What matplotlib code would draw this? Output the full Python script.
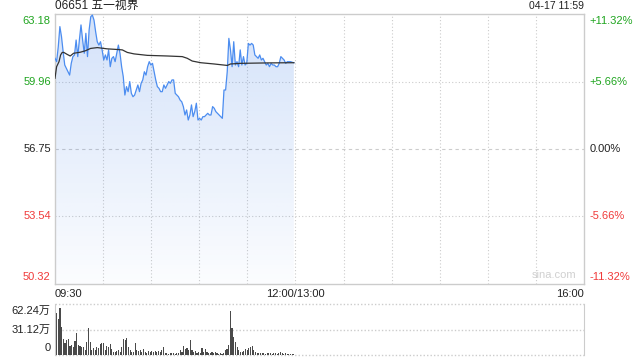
import numpy as np
import matplotlib
matplotlib.use('Agg')
import matplotlib.pyplot as plt
from matplotlib.patches import Polygon

plt.rcParams['font.family'] = ['Liberation Sans', 'Noto Sans CJK SC', 'DejaVu Sans']

# 行情数据 (09:30 - 11:59)
prev_close = 56.75
price = [61.07, 60.91, 61.62, 62.58, 62.10, 61.39, 60.75, 60.59, 60.43, 60.27,
         60.83, 61.15, 61.23, 61.94, 61.15, 61.94, 62.66, 61.94, 61.31, 62.26,
         61.15, 62.42, 63.05, 63.13, 62.89, 62.34, 61.86, 61.70, 61.86, 61.47,
         60.99, 61.23, 60.99, 61.47, 60.67, 61.07, 61.15, 60.91, 61.31, 61.70,
         61.31, 60.67, 60.20, 59.32, 59.72, 59.48, 59.96, 59.40, 59.24, 59.32,
         59.56, 59.80, 59.48, 59.88, 60.04, 60.43, 60.27, 60.67, 60.91, 60.75,
         60.83, 60.43, 60.04, 59.72, 59.64, 59.48, 59.48, 59.80, 59.64, 59.80,
         59.96, 59.88, 60.04, 60.04, 59.40, 59.32, 59.24, 59.08, 59.00, 58.77,
         58.37, 58.61, 58.13, 58.37, 58.85, 58.29, 58.53, 58.93, 58.13, 58.21,
         58.13, 58.29, 58.29, 58.37, 58.45, 58.37, 58.37, 58.77, 58.69, 58.53,
         58.45, 58.37, 58.29, 58.21, 59.56, 59.56, 60.43, 62.02, 61.47, 60.67,
         61.86, 60.75, 60.91, 60.67, 61.47, 60.75, 61.15, 60.75, 60.83, 61.78,
         61.70, 61.78, 61.70, 61.23, 61.15, 61.07, 61.23, 60.99, 61.07, 60.91,
         60.75, 60.83, 60.67, 60.83, 60.75, 60.75, 60.67, 60.67, 60.83, 61.15,
         61.07, 60.99, 60.83, 60.91, 60.91, 60.91, 60.88, 60.86]

avg_min = [0, 1, 2.5, 3.5, 4.5, 5.5, 7.5, 9.5, 11.6, 15.8, 19, 22.2, 26.4, 32.6,
           38.9, 42, 45.1, 49.3, 57.6, 70.1, 79.4, 82.5, 85.6, 90.9, 99.2, 107.5,
           109.5, 115.8, 132.4, 149]
avg_val = [60.12, 60.67, 60.91, 61.23, 61.35, 61.35, 61.26, 61.18, 61.31, 61.36,
           61.43, 61.54, 61.58, 61.52, 61.49, 61.47, 61.35, 61.28, 61.21, 61.18,
           61.15, 61.07, 60.94, 60.86, 60.80, 60.73, 60.80, 60.83, 60.85, 60.86]

# 成交量 (万股)
volume = [62.24, 51.2, 43.8, 57.3, 34.0, 19.2, 14.3, 18.4, 19.2, 11.0,
          12.3, 9.4, 17.6, 26.6, 12.3, 11.0, 10.2, 9.4, 6.1, 16.4,
          32.8, 16.4, 6.1, 8.2, 6.1, 10.2, 8.2, 13.5, 15.2, 15.2,
          6.1, 11.0, 9.4, 13.5, 7.0, 4.1, 4.1, 5.3, 6.1, 4.1,
          9.4, 19.2, 18.4, 20.5, 9.4, 6.1, 4.1, 4.1, 15.2, 6.1,
          5.3, 6.1, 4.1, 7.0, 4.1, 2.9, 5.3, 4.1, 5.3, 4.1,
          5.3, 4.1, 5.3, 4.1, 6.1, 9.4, 2.9, 2.0, 1.2, 2.0,
          2.9, 2.0, 1.2, 2.9, 2.0, 6.1, 4.1, 11.0, 7.0, 8.2,
          6.1, 18.4, 6.1, 4.1, 5.3, 2.9, 4.1, 2.9, 8.2, 4.1,
          7.0, 4.1, 2.9, 2.0, 4.1, 2.9, 4.1, 2.0, 1.2, 2.9,
          1.2, 2.9, 6.1, 7.0, 12.3, 54.0, 32.8, 22.5, 16.4, 9.4,
          6.1, 4.1, 4.1, 5.3, 7.0, 6.1, 8.2, 9.4, 11.0, 6.1,
          4.1, 2.9, 2.0, 2.0, 2.9, 2.0, 1.2, 2.0, 2.9, 2.0,
          1.2, 2.9, 2.0, 1.2, 2.0, 4.1, 2.0, 1.2, 2.0, 1.2,
          1.2, 1.2, 0.8, 0.8]

price_ticks = [63.18, 59.96, 56.75, 53.54, 50.32]
pct_labels = ['+11.32%', '+5.66%', '0.00%', '-5.66%', '-11.32%']
vol_ticks = [62.24, 31.12, 0]
vol_labels = ['62.24万', '31.12万', '0']

GREEN = '#1fa51f'
RED = '#f03a3a'
GRID = '#cccccc'
LINE = '#4c8df0'

t_price = np.linspace(0, 149, len(price))
t_vol = np.linspace(0, 149, len(volume))

fig = plt.figure(figsize=(6.4, 3.6), dpi=100)
ax = fig.add_axes([55 / 640, 1 - 284 / 360, 529 / 640, 270 / 360])
axv = fig.add_axes([55 / 640, 1 - 355 / 360, 529 / 640, 51 / 360])

ymin, ymax = price_ticks[-1], price_ticks[0]
ax.set_xticks([])
ax.set_yticks([])
for s in ax.spines.values():
    s.set_color(GRID)
    s.set_linewidth(1)

# 网格
for x in range(30, 330, 30):
    ax.axvline(x, color=GRID, lw=0.8, ls=(0, (1, 2)), zorder=0)
for p in [price_ticks[1], price_ticks[3]]:
    ax.axhline(p, color=GRID, lw=0.8, ls=(0, (1, 2)), zorder=0)
ax.axhline(prev_close, color=GRID, lw=0.8, ls=(0, (3, 3)), zorder=0)

# 渐变填充
verts = [(t_price[0], ymin)] + list(zip(t_price, price)) + [(t_price[-1], ymin)]
poly = Polygon(verts, closed=True, facecolor='none', edgecolor='none')
ax.add_patch(poly)
grad = np.zeros((256, 1, 4))
grad[:, 0, 0:3] = matplotlib.colors.to_rgb('#4a86e8')
grad[:, 0, 3] = np.linspace(0.24, 0.02, 256)
im = ax.imshow(grad, extent=[t_price[0], t_price[-1], ymin, ymax], aspect='auto',
               origin='upper', zorder=1)
im.set_clip_path(poly)
ax.set_xlim(0, 330)
ax.set_ylim(ymin, ymax)

ax.plot(t_price, price, color=LINE, lw=0.9, zorder=3)
ax.plot(avg_min, avg_val, color='#333333', lw=0.9, zorder=4)

# 左右刻度
lcolors = [GREEN, GREEN, '#222222', RED, RED]
offs = [-5, 0, 0, 0, 5]
for p, lab, col, o in zip(price_ticks, pct_labels, lcolors, offs):
    ax.annotate(f'{p:.2f}', (0, p), xycoords=('axes fraction', 'data'),
                xytext=(-3, o), textcoords='offset points', ha='right', va='center',
                fontsize=8, color=col)
    ax.annotate(lab, (1, p), xycoords=('axes fraction', 'data'),
                xytext=(4, o), textcoords='offset points', ha='left', va='center',
                fontsize=8, color=col)

ax.annotate('06651 五一视界', (0, 1), xycoords='axes fraction', xytext=(0, 5.5),
            textcoords='offset points', ha='left', va='center', fontsize=8.5, color='#222222')
ax.annotate('04-17 11:59', (1, 1), xycoords='axes fraction', xytext=(0, 5.5),
            textcoords='offset points', ha='right', va='center', fontsize=7.5, color='#222222')
ax.text(0.985, 0.015, 'sina.com', transform=ax.transAxes, ha='right', va='bottom',
        fontsize=8, color='#d0d0d0')

# 时间轴
for x, lab, ha in [(0, '09:30', 'left'), (150, '12:00/13:00', 'center'), (330, '16:00', 'right')]:
    ax.annotate(lab, (x, 0), xycoords=('data', 'axes fraction'), xytext=(0, -7),
                textcoords='offset points', ha=ha, va='center', fontsize=8, color='#222222')

# 成交量
axv.set_xlim(0, 330)
axv.set_ylim(0, vol_ticks[0])
axv.bar(t_vol, volume, width=0.7, color='#4a4a4a', zorder=2)
axv.set_xticks([])
axv.set_yticks([])
for k in ['top', 'bottom']:
    axv.spines[k].set_visible(False)
for k in ['left', 'right']:
    axv.spines[k].set_color(GRID)
for v in vol_ticks:
    axv.axhline(v, color=GRID, lw=1.0, ls=(0, (1, 1.5)), zorder=0, clip_on=False)
voffs = [-5, 0, 5]
for v, lab, o in zip(vol_ticks, vol_labels, voffs):
    axv.annotate(lab, (0, v), xycoords=('axes fraction', 'data'), xytext=(-3, o),
                 textcoords='offset points', ha='right', va='center', fontsize=8,
                 color='#222222')

fig.savefig('out.png', dpi=100, facecolor='white')
